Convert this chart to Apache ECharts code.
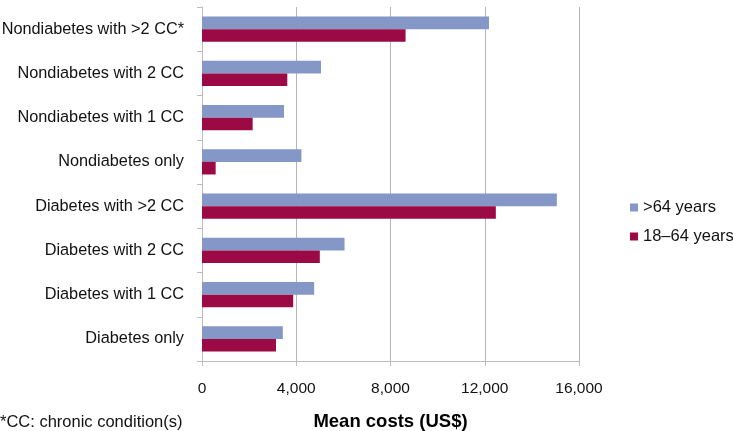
<!DOCTYPE html>
<html>
<head>
<meta charset="utf-8">
<script src="https://cdn.jsdelivr.net/npm/echarts@6/dist/echarts.min.js"></script>
<style>
  html, body { margin: 0; padding: 0; background: #fff; }
  #chart { width: 733px; height: 431px; }
</style>
</head>
<body>
<div id="chart"></div>
<script>
// categories, bottom to top (category axis starts at the bottom)
var categories = [
  'Diabetes only',
  'Diabetes with 1 CC',
  'Diabetes with 2 CC',
  'Diabetes with >2 CC',
  'Nondiabetes only',
  'Nondiabetes with 1 CC',
  'Nondiabetes with 2 CC',
  'Nondiabetes with >2 CC*'
];
// mean costs, same order
var over64 = [3430, 4760, 6050, 15060, 4220, 3480, 5050, 12180];
var age18to64 = [3140, 3870, 5000, 12470, 580, 2150, 3620, 8640];

var seriesNames = ['>64 years', '18\u201364 years'];
var xTicks = { min: 0, max: 16000, interval: 4000 };

var font = 'Liberation Sans, Arial, sans-serif';

var myChart = echarts.init(document.getElementById('chart'));

var option = {
  animation: false,
  backgroundColor: '#fff',
  title: {
    text: '*CC: chronic condition(s)',
    left: 0,
    top: 414,
    padding: 0,
    textStyle: { fontFamily: font, fontSize: 16.5, fontWeight: 'normal', color: '#111' }
  },
  legend: {
    orient: 'vertical',
    left: 625,
    top: 194,
    itemWidth: 8,
    itemHeight: 8,
    itemGap: 12,
    icon: 'rect',
    data: seriesNames,
    textStyle: { fontFamily: font, fontSize: 16.5, color: '#111' }
  },
  grid: { left: 202, right: 154, top: 7, bottom: 70, containLabel: false, outerBoundsMode: 'none' },
  xAxis: {
    type: 'value',
    min: xTicks.min,
    max: xTicks.max,
    interval: xTicks.interval,
    name: 'Mean costs (US$)',
    nameLocation: 'middle',
    nameGap: 51,
    nameTextStyle: { fontFamily: font, fontSize: 18.5, fontWeight: 'bold', color: '#000' },
    axisLine: { show: true, lineStyle: { color: '#bdbdbd', width: 1 } },
    axisTick: { show: true, length: 5, lineStyle: { color: '#bdbdbd' } },
    axisLabel: {
      margin: 20,
      fontFamily: font,
      fontSize: 15.5,
      color: '#111',
      formatter: function (v) { return v.toLocaleString('en-US'); }
    },
    splitLine: { show: true, lineStyle: { color: '#b5b5b5', width: 1 } }
  },
  yAxis: {
    type: 'category',
    data: categories,
    axisLine: { show: true, lineStyle: { color: '#bdbdbd', width: 1 } },
    axisTick: { show: true, length: 5, lineStyle: { color: '#bdbdbd' } },
    axisLabel: { margin: 18, fontFamily: font, fontSize: 16.3, color: '#111' }
  },
  series: [
    {
      name: seriesNames[0],
      type: 'bar',
      data: over64,
      barGap: '0%',
      barCategoryGap: '43%',
      itemStyle: { color: '#8497c7' }
    },
    {
      name: seriesNames[1],
      type: 'bar',
      data: age18to64,
      barGap: '0%',
      barCategoryGap: '43%',
      itemStyle: { color: '#9b0a45' }
    }
  ]
};

myChart.setOption(option);
</script>
</body>
</html>
